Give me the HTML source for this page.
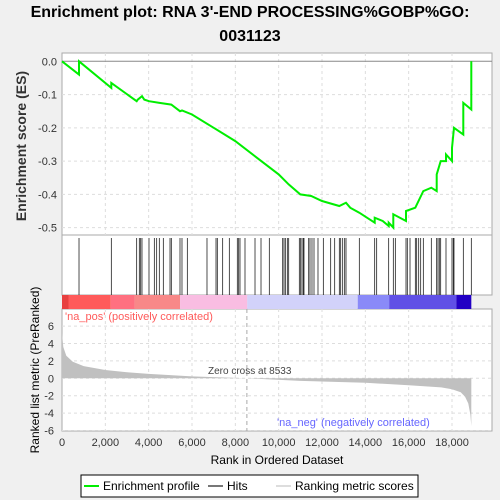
<!DOCTYPE html>
<html><head><meta charset="utf-8"><style>
body{margin:0;background:#f0f0f0;}
svg{display:block;font-family:"Liberation Sans",sans-serif;}
</style></head><body>
<svg id="chart" width="500" height="500" viewBox="0 0 500 500"></svg>
<script>
const esRanks=[0,785,785,2277,2277,3446,3500,3692,3800,4015,4500,5046,5446,5538,6000,7000,8000,9000,10000,10462,11000,11500,12000,12800,13108,13300,13723,14431,14431,14800,15077,15077,15292,15292,15877,15877,16308,16677,17046,17292,17292,17477,17723,17723,18000,18000,18092,18523,18523,18892,18892];
const esValues=[0,-0.04,0,-0.08,-0.065,-0.12,-0.115,-0.105,-0.115,-0.12,-0.125,-0.13,-0.15,-0.148,-0.16,-0.2,-0.24,-0.29,-0.34,-0.37,-0.4,-0.405,-0.42,-0.435,-0.425,-0.44,-0.455,-0.485,-0.47,-0.48,-0.495,-0.485,-0.5,-0.46,-0.48,-0.45,-0.44,-0.39,-0.38,-0.39,-0.34,-0.3,-0.3,-0.28,-0.3,-0.26,-0.2,-0.22,-0.125,-0.145,0];
const hitRanks=[785,2277,3446,3569,3631,3692,4015,4262,4369,4492,4677,4985,5046,5446,5538,5785,6692,7108,7169,7415,7723,8092,8154,8215,8446,8908,9185,9569,10185,10246,10308,10400,10462,10954,11015,11077,11138,11169,11385,11446,11538,11631,11815,12062,12400,12585,12800,12862,12954,13046,13108,13723,14431,14523,15077,15292,15385,15877,15938,16062,16308,16369,16462,16554,16677,17046,17292,17354,17415,17477,17723,18000,18062,18092,18523,18892];
const metricRanks=[0,60,200,500,1000,2000,3000,4000,6000,8533,11000,14000,16000,17500,18000,18400,18600,18750,18850,18892];
const metricValues=[5.2,3.6,2.6,1.9,1.4,0.95,0.7,0.5,0.22,0,-0.3,-0.5,-0.8,-1.05,-1.25,-1.6,-2.1,-2.9,-4.2,-5.5];
const xTicks=[0,2000,4000,6000,8000,10000,12000,14000,16000,18000];
const esTicks=[0,-0.1,-0.2,-0.3,-0.4,-0.5];
const metricTicks=[6,4,2,0,-2,-4,-6];
const barStops=[0,300,2250,3350,5450,8550,13650,15100,18200,18892];
const barColors=["#e84040","#ff5a5a","#ff7080","#f88888","#f9bde2","#d2d2fa","#8a8af8","#6050e6","#2200c4"];

const NS="http://www.w3.org/2000/svg";
const svg=document.getElementById('chart');
function el(t,a,p){const e=document.createElementNS(NS,t);for(const k in a)e.setAttribute(k,a[k]);(p||svg).appendChild(e);return e;}
const L=62,R=492;
const xs=r=>L+r*390/18000;
const ys=v=>61.3-v*332.7;
const ym=v=>378.3-v*8.7;

let t=el('text',{x:250,y:17,'text-anchor':'middle','font-size':16,'font-weight':'bold',fill:'#000'});t.textContent="Enrichment plot: RNA 3'-END PROCESSING%GOBP%GO:";

t=el('text',{x:250,y:41,'text-anchor':'middle','font-size':16,'font-weight':'bold',fill:'#000'});t.textContent="0031123";


// panels
let p=el('rect',{x:L,y:53,width:R-L,height:182,fill:'#fff',stroke:'#aaa'});
p=el('rect',{x:L,y:235,width:R-L,height:60,fill:'#fff',stroke:'#aaa'});
p=el('rect',{x:L,y:309,width:R-L,height:122,fill:'#fff',stroke:'#aaa'});

// grids
xTicks.forEach(v=>{if(v===0)return;
 el('line',{x1:xs(v),x2:xs(v),y1:53,y2:235,stroke:'#ddd','stroke-dasharray':'3,3'});
 el('line',{x1:xs(v),x2:xs(v),y1:309,y2:431,stroke:'#ddd','stroke-dasharray':'3,3'});
});
esTicks.forEach(v=>{el('line',{x1:L,x2:R,y1:ys(v),y2:ys(v),stroke:v===0?'#888':'#ddd','stroke-dasharray':v===0?'':'3,3'});
 let tt=el('text',{x:57,y:ys(v)+4,'text-anchor':'end','font-size':11,fill:'#333'});tt.textContent=v.toFixed(1);
 });
metricTicks.forEach(v=>{el('line',{x1:L,x2:R,y1:ym(v),y2:ym(v),stroke:'#ddd','stroke-dasharray':'3,3'});
 let tt=el('text',{x:54,y:ym(v)+4,'text-anchor':'end','font-size':11,fill:'#333'});tt.textContent=v;
 });

// ES line
let d=esRanks.map((r,i)=>(i?'L':'M')+xs(r).toFixed(1)+','+ys(esValues[i]).toFixed(1)).join('');
let ln=el('path',{d:d,fill:'none',stroke:'#00ee00','stroke-width':2});


// hits
hitRanks.forEach(r=>{let h=el('line',{x1:xs(r),x2:xs(r),y1:238,y2:295,stroke:'#222','stroke-width':0.8});
 });

// color bar
for(let i=0;i<barColors.length;i++){let b=el('rect',{x:xs(barStops[i]),y:295,width:xs(barStops[i+1])-xs(barStops[i]),height:14,fill:barColors[i]});
 }

// metric area
d='M'+xs(0)+','+ym(0)+metricRanks.map((r,i)=>'L'+xs(r).toFixed(1)+','+ym(metricValues[i]).toFixed(1)).join('')+'L'+xs(metricRanks[metricRanks.length-1])+','+ym(0)+'Z';
let ar=el('path',{d:d,fill:'#c0c0c0',stroke:'none'});

el('line',{x1:xs(8533),x2:xs(8533),y1:309,y2:431,stroke:'#aaa','stroke-dasharray':'4,3'});
t=el('text',{x:208,y:374,'font-size':10,fill:'#444'});t.textContent='Zero cross at 8533';
t=el('text',{x:65,y:320,'font-size':11,fill:'#ff5a5a'});t.textContent="'na_pos' (positively correlated)";
t=el('text',{x:277,y:426,'font-size':11,fill:'#6666ff'});t.textContent="'na_neg' (negatively correlated)";

xTicks.forEach(v=>{let tt=el('text',{x:xs(v),y:446,'text-anchor':'middle','font-size':11,fill:'#333'});tt.textContent=v.toLocaleString('en-US');
 });
t=el('text',{x:277,y:464,'text-anchor':'middle','font-size':12,fill:'#000'});t.textContent='Rank in Ordered Dataset';
t=el('text',{x:0,y:0,'text-anchor':'middle','font-size':14,'font-weight':'bold',fill:'#333',transform:'translate(26,146) rotate(-90)'});t.textContent='Enrichment score (ES)';
t=el('text',{x:0,y:0,'text-anchor':'middle','font-size':12,fill:'#000',transform:'translate(39,370) rotate(-90)'});t.textContent='Ranked list metric (PreRanked)';

// legend
const g=el('g',{});
el('rect',{x:81,y:475,width:337,height:22,fill:'#fff',stroke:'#000'},g);
el('line',{x1:84,x2:99,y1:486,y2:486,stroke:'#00ee00','stroke-width':2},g);
t=el('text',{x:103,y:490,'font-size':12,fill:'#000'},g);t.textContent='Enrichment profile';
el('line',{x1:208,x2:223,y1:486,y2:486,stroke:'#777','stroke-width':2},g);
t=el('text',{x:227,y:490,'font-size':12,fill:'#000'},g);t.textContent='Hits';
el('line',{x1:276,x2:291,y1:486,y2:486,stroke:'#ddd','stroke-width':2},g);
t=el('text',{x:295,y:490,'font-size':12,fill:'#000'},g);t.textContent='Ranking metric scores';
</script>
</body></html>
